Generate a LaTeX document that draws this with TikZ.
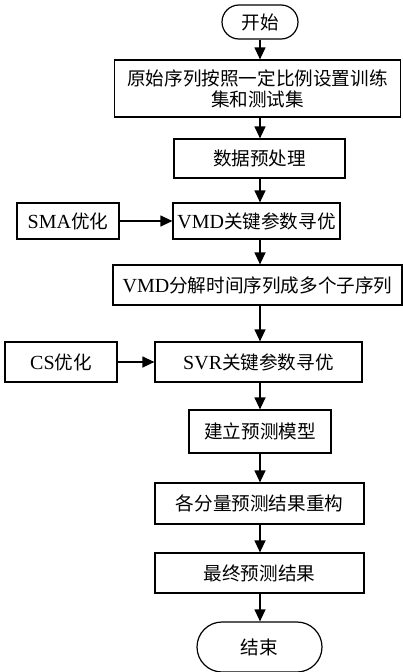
\documentclass[tikz,border=0pt]{standalone}
\usepackage{fontspec}
\setmainfont{Liberation Serif}
\newfontfamily\cjk{Noto Sans CJK SC}
\newcommand\zhtxt[1]{{\cjk\fontsize{18.6}{22}\selectfont #1}}
\usetikzlibrary{arrows.meta}
\begin{document}
\begin{tikzpicture}[x=1pt,y=-1pt,
  every node/.style={font=\fontsize{20}{22}\selectfont},
  box/.style={draw,line width=1.2pt,rectangle,inner sep=0pt,align=center},
  term/.style={box,rounded corners=#1},
  arr/.style={line width=1.2pt,-{Triangle[length=12pt,width=11pt]}}]
\useasboundingbox (0,0) rectangle (403,672);
\coordinate (axis) at (260,0);
% main column
\node[term=17pt,minimum width=76pt,minimum height=34pt] (start) at (260,22) {\zhtxt{开始}};
\node[box,minimum width=286pt,minimum height=57pt] (split) at (257.5,88.5)
  {\zhtxt{原始序列按照一定比例设置训练}\\[-1pt]\zhtxt{集和测试集}};
\node[box,minimum width=171pt,minimum height=39pt] (pre) at (259.5,158.5) {\zhtxt{数据预处理}};
\node[box,minimum width=167pt,minimum height=36pt] (vmdopt) at (256.5,221) {VMD\zhtxt{关键参数寻优}};
\node[box,minimum width=289pt,minimum height=40pt] (vmddec) at (257.5,285) {VMD\zhtxt{分解时间序列成多个子序列}};
\node[box,minimum width=207pt,minimum height=40pt] (svropt) at (258.5,362) {SVR\zhtxt{关键参数寻优}};
\node[box,minimum width=142pt,minimum height=43pt] (model) at (260,431.5) {\zhtxt{建立预测模型}};
\node[box,minimum width=209pt,minimum height=41pt] (recon) at (259.5,503.5) {\zhtxt{各分量预测结果重构}};
\node[box,minimum width=209pt,minimum height=40pt] (final) at (259.5,573) {\zhtxt{最终预测结果}};
\node[term=25pt,minimum width=125pt,minimum height=50pt] (stop) at (259.5,647) {\zhtxt{结束}};
% side optimisers
\node[box,minimum width=102pt,minimum height=36pt] (sma) at (68,221) {SMA\zhtxt{优化}};
\node[box,minimum width=112pt,minimum height=40pt] (cs) at (61,362) {CS\zhtxt{优化}};
% connectors
\draw[arr] (start.south -| axis) -- (split.north -| axis);
\draw[arr] (split.south -| axis) -- (pre.north -| axis);
\draw[arr] (pre.south -| axis) -- (vmdopt.north -| axis);
\draw[arr] (vmdopt.south -| axis) -- (vmddec.north -| axis);
\draw[arr] (vmddec.south -| axis) -- (svropt.north -| axis);
\draw[arr] (svropt.south -| axis) -- (model.north -| axis);
\draw[arr] (model.south -| axis) -- (recon.north -| axis);
\draw[arr] (recon.south -| axis) -- (final.north -| axis);
\draw[arr] (final.south -| axis) -- (stop.north -| axis);
\draw[arr] (sma) -- (vmdopt);
\draw[arr] (cs) -- (svropt);
\end{tikzpicture}
\end{document}
